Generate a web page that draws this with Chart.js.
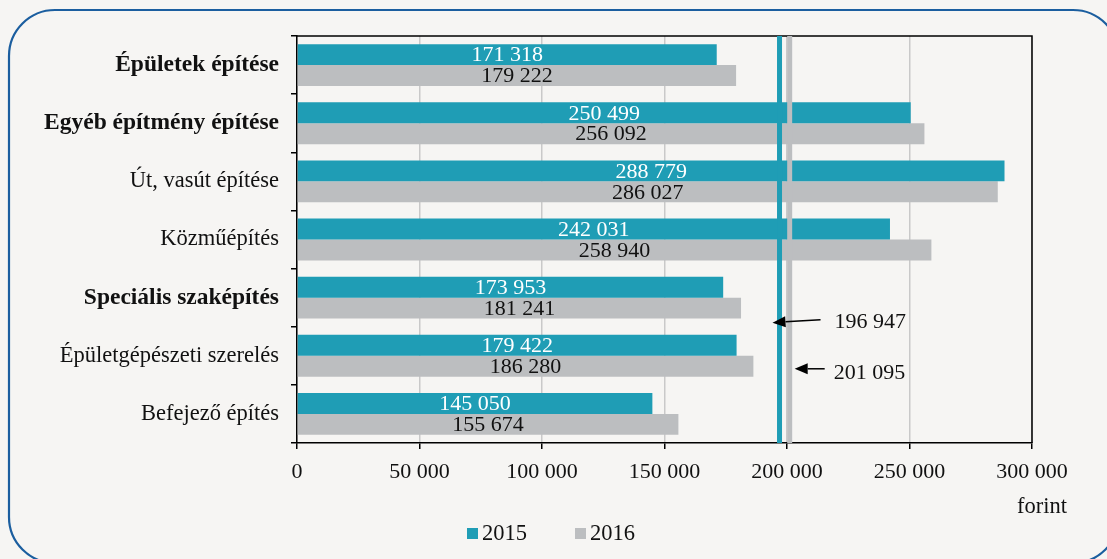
<!DOCTYPE html>
<html>
<head>
<meta charset="utf-8">
<script src="https://cdn.jsdelivr.net/npm/chart.js@4.4.0/dist/chart.umd.min.js"></script>
<style>
html,body{margin:0;padding:0;background:#f6f5f3;}
#wrap{width:1107px;height:559px;position:relative;}
</style>
</head>
<body>
<div id="wrap"><canvas id="c" width="1107" height="559"></canvas></div>
<script>
const categories = ["Épületek építése","Egyéb építmény építése","Út, vasút építése","Közműépítés","Speciális szaképítés","Épületgépészeti szerelés","Befejező építés"];
const boldCategories = ["Épületek építése","Egyéb építmény építése","Speciális szaképítés"];
const values2015 = [171318, 250499, 288779, 242031, 173953, 179422, 145050];
const values2016 = [179222, 256092, 286027, 258940, 181241, 186280, 155674];
const average2015 = 196947;
const average2016 = 201095;
const seriesNames = ["2015","2016"];
const unitLabel = "forint";

const TEAL = "#1f9db5";
const GRAY = "#bcbec0";
const FONT = "'Liberation Serif', 'DejaVu Serif', serif";
const fmt = v => String(v).replace(/\B(?=(\d{3})+(?!\d))/g, " ");

const decor = {
  id: "decor",
  beforeDraw(chart) {
    const ctx = chart.ctx;
    ctx.save();
    ctx.fillStyle = "#f6f5f3";
    ctx.fillRect(0, 0, chart.width, chart.height);
    // rounded frame
    ctx.strokeStyle = "#1b5e9f";
    ctx.lineWidth = 2.2;
    const x = 9, y = 10, w = 1110, h = 553, r = 46;
    ctx.beginPath();
    ctx.moveTo(x + r, y);
    ctx.lineTo(x + w - r, y);
    ctx.arcTo(x + w, y, x + w, y + r, r);
    ctx.lineTo(x + w, y + h - r);
    ctx.arcTo(x + w, y + h, x + w - r, y + h, r);
    ctx.lineTo(x + r, y + h);
    ctx.arcTo(x, y + h, x, y + h - r, r);
    ctx.lineTo(x, y + r);
    ctx.arcTo(x, y, x + r, y, r);
    ctx.closePath();
    ctx.stroke();
    ctx.restore();
  },
  afterDatasetsDraw(chart) {
    const ctx = chart.ctx;
    const xs = chart.scales.x, ys = chart.scales.y;
    const a = chart.chartArea;
    ctx.save();
    // plot frame top/right
    ctx.strokeStyle = "#000";
    ctx.lineWidth = 1.5;
    ctx.beginPath();
    ctx.moveTo(a.left, a.top);
    ctx.lineTo(a.right, a.top);
    ctx.lineTo(a.right, a.bottom);
    ctx.stroke();
    // reference lines
    [[average2015, TEAL], [average2016, GRAY]].forEach(([v, c]) => {
      const px = xs.getPixelForValue(v);
      ctx.strokeStyle = c;
      ctx.lineWidth = 5;
      ctx.beginPath();
      ctx.moveTo(px, a.top);
      ctx.lineTo(px, a.bottom);
      ctx.stroke();
    });
    // value labels
    ctx.font = "22px " + FONT;
    ctx.textAlign = "center";
    ctx.textBaseline = "middle";
    chart.data.datasets.forEach((ds, di) => {
      const meta = chart.getDatasetMeta(di);
      meta.data.forEach((bar, i) => {
        ctx.fillStyle = di === 0 ? "#ffffff" : "#111111";
        ctx.fillText(fmt(ds.data[i]), (bar.x + bar.base) / 2, bar.y + 1);
      });
    });
    // arrows + labels
    const arrow = (x1, y1, x2, y2) => {
      ctx.strokeStyle = "#000"; ctx.fillStyle = "#000"; ctx.lineWidth = 1.5;
      const ang = Math.atan2(y2 - y1, x2 - x1);
      const hl = 13, hw = 5.5;
      const bx = x2 - hl * Math.cos(ang), by = y2 - hl * Math.sin(ang);
      ctx.beginPath(); ctx.moveTo(x1, y1); ctx.lineTo(bx, by); ctx.stroke();
      ctx.beginPath();
      ctx.moveTo(x2, y2);
      ctx.lineTo(bx - hw * Math.sin(ang), by + hw * Math.cos(ang));
      ctx.lineTo(bx + hw * Math.sin(ang), by - hw * Math.cos(ang));
      ctx.closePath(); ctx.fill();
    };
    const p15 = xs.getPixelForValue(average2015);
    const p16 = xs.getPixelForValue(average2016);
    const yA = ys.getPixelForValue(4) + 24;
    const yB = ys.getPixelForValue(5) + 13;
    arrow(p15 + 41, yA - 2, p15 - 7, yA + 1);
    arrow(p16 + 35, yB, p16 + 5, yB);
    ctx.fillStyle = "#111";
    ctx.font = "22px " + FONT;
    ctx.textAlign = "left";
    ctx.textBaseline = "middle";
    ctx.fillText(fmt(average2015), p15 + 55, yA + 1);
    ctx.fillText(fmt(average2016), p16 + 44, yB + 4);
    // unit label
    ctx.textAlign = "right";
    ctx.font = "22.5px " + FONT;
    ctx.fillText(unitLabel, 1067, 507);
    // legend
    ctx.font = "22.5px " + FONT;
    ctx.textAlign = "left";
    let lx = 467;
    [[seriesNames[0], TEAL], [seriesNames[1], GRAY]].forEach(([t, c]) => {
      ctx.fillStyle = c;
      ctx.fillRect(lx, 528, 11, 11);
      ctx.fillStyle = "#111";
      ctx.fillText(t, lx + 15, 534);
      lx += 108;
    });
    ctx.restore();
  }
};

new Chart(document.getElementById("c"), {
  type: "bar",
  data: {
    labels: categories,
    datasets: [
      { label: seriesNames[0], data: values2015, backgroundColor: TEAL },
      { label: seriesNames[1], data: values2016, backgroundColor: GRAY }
    ]
  },
  options: {
    indexAxis: "y",
    responsive: false,
    animation: false,
    devicePixelRatio: 1,
    categoryPercentage: 0.72,
    barPercentage: 1.0,
    layout: { padding: { top: 36, right: 75, left: 0, bottom: 0 } },
    plugins: { legend: { display: false }, tooltip: { enabled: false } },
    scales: {
      x: {
        min: 0, max: 300000,
        ticks: {
          stepSize: 50000,
          callback: v => fmt(v),
          font: { family: FONT, size: 22 },
          color: "#111",
          padding: 10,
          maxRotation: 0
        },
        grid: { color: "#c9c9c9", lineWidth: 1.5, tickLength: 6, tickColor: "#000" },
        border: { color: "#000", width: 1.5 },
        afterFit(s) { s.height = 116; }
      },
      y: {
        ticks: {
          font: ctx => {
            const b = boldCategories.includes(categories[ctx.index]);
            return { family: FONT, size: b ? 23.5 : 22.5, weight: b ? "bold" : "normal" };
          },
          color: "#111",
          padding: 12
        },
        grid: { offset: true, drawOnChartArea: false, tickLength: 6, color: "#000", lineWidth: 1.5 },
        border: { color: "#000", width: 1.5 },
        afterFit(s) { s.width = 297; }
      }
    }
  },
  plugins: [decor]
});
</script>
</body>
</html>
